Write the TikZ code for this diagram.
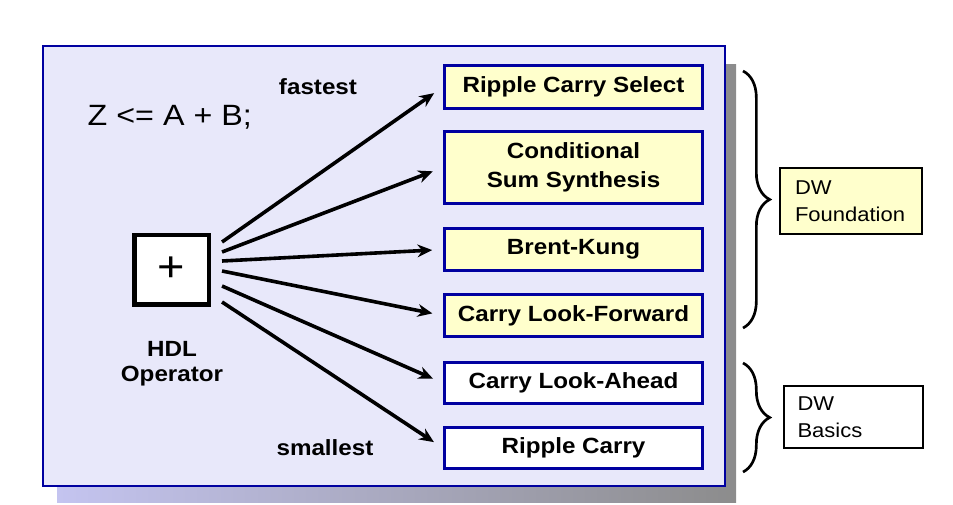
\documentclass[tikz,border=0pt]{standalone}
\usepackage{fontspec}
\setmainfont{Liberation Sans}[FakeStretch=1.1]
\usetikzlibrary{arrows.meta,decorations.pathreplacing}
\definecolor{marino}{HTML}{0000A0}
\definecolor{lavanda}{HTML}{E8E8FA}
\definecolor{crema}{HTML}{FFFFCC}
\definecolor{sombra}{HTML}{8C8C8C}
\definecolor{sombraazul}{HTML}{C4C4F0}

\begin{document}
\begin{tikzpicture}[x=0.75pt, y=-0.75pt, font=\fontsize{16.5}{19}\selectfont\bfseries,
  impl/.style={draw=marino, line width=2.5pt, minimum width=193.5pt, align=center, inner sep=0pt},
  flecha/.style={-{Stealth[length=11pt,width=9.5pt]}, line width=2.7pt, shorten >=8pt},
  llave/.style={decorate, decoration={brace, amplitude=20pt}, line width=2pt},
  grupo/.style={draw, line width=1.7pt, align=left, inner xsep=11pt, font=\fontsize{15}{20}\selectfont}]
\useasboundingbox (0,0) rectangle (953,504);
\shade[left color=sombraazul, right color=sombra] (57,64) rectangle (736,502);
\draw[marino, fill=lavanda, line width=2.2pt] (43,46) rectangle (725,486);
\node[font=\fontsize{22}{26}\selectfont, anchor=west] (asig) at (83,117) {Z <= A + B;};
\node[draw, fill=white, line width=3.4pt, minimum width=55.9pt, minimum height=52.1pt, font=\fontsize{32}{32}\selectfont] (suma) at (171.5,269.5) {+};
\node[align=center] (hdl) at (172,364) {HDL\\Operator};
\node (rapido) at (318,87) {fastest};
\node (pequeno) at (325,448) {smallest};
\foreach \n/\y/\h/\c/\t in {rcs/87/32.25pt/crema/Ripple Carry Select, css/167.5/54pt/crema/{Conditional\\[3pt]Sum Synthesis}, bk/249.5/31.5pt/crema/Brent-Kung, clf/315.5/31.5pt/crema/Carry Look-Forward, cla/383/30.75pt/white/Carry Look-Ahead, rc/448/30.75pt/white/Ripple Carry}
  \node[impl, fill=\c, minimum height=\h] (\n) at (573.5,\y) {\t};
\foreach \n/\dy in {rcs/-27.5, css/-17.5, bk/-8.5, clf/1.5, cla/16.5, rc/32.5}
  \draw[flecha] ([shift={(11,\dy)}]suma.east) -- (\n.west);
\draw[llave] (743,71) -- (743,328);
\draw[llave] (743,363) -- (743,472);
\node[grupo, fill=crema, minimum height=49.5pt, text width=84pt] (fund) at (851,201) {DW\\Foundation};
\node[grupo, fill=white, minimum height=46.5pt, text width=84pt, inner xsep=10pt] (basic) at (853.5,417) {DW\\Basics};
\end{tikzpicture}
\end{document}
